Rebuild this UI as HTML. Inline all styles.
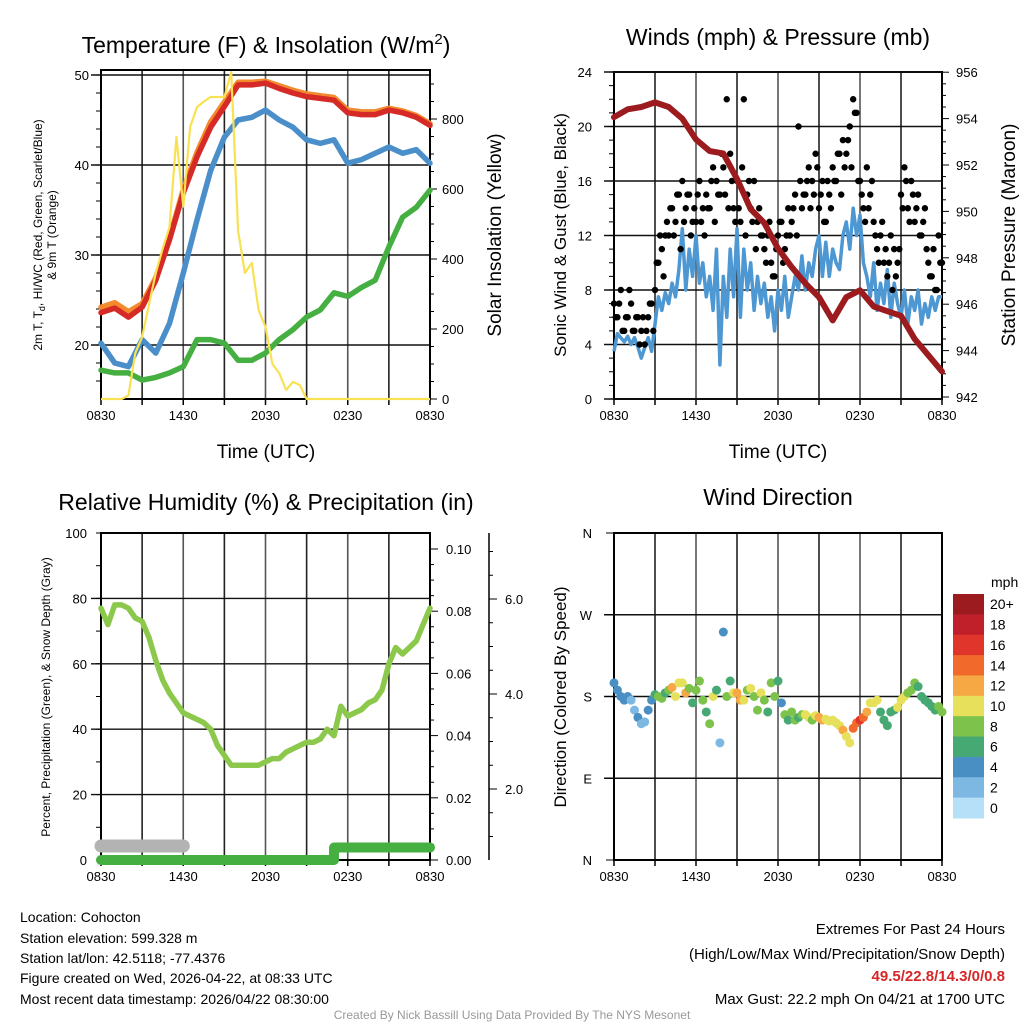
<!DOCTYPE html>
<html><head><meta charset="utf-8">
<style>
body{margin:0;background:#fff;}
svg{display:block;font-family:"Liberation Sans",Arial,sans-serif;}
</style></head>
<body>
<svg id="c" width="1024" height="1024" viewBox="0 0 1024 1024" xmlns="http://www.w3.org/2000/svg">
<rect width="1024" height="1024" fill="#fff"/>
<text x="266" y="53" font-size="23" text-anchor="middle">Temperature (F) &amp; Insolation (W/m<tspan dy="-9" font-size="15">2</tspan><tspan dy="9">)</tspan></text>
<text x="778" y="45" font-size="23" text-anchor="middle">Winds (mph) &amp; Pressure (mb)</text>
<text x="266" y="510" font-size="23" text-anchor="middle">Relative Humidity (%) &amp; Precipitation (in)</text>
<text x="778" y="505" font-size="23" text-anchor="middle">Wind Direction</text>

<text x="266" y="458" font-size="19" text-anchor="middle">Time (UTC)</text>
<text x="778" y="458" font-size="19" text-anchor="middle">Time (UTC)</text>

<text transform="translate(42,235) rotate(-90)" font-size="12" text-anchor="middle">2m T, T<tspan dy="3" font-size="9">d</tspan><tspan dy="-3">, HI/WC (Red, Green, Scarlet/Blue)</tspan></text>
<text transform="translate(56,235) rotate(-90)" font-size="12" text-anchor="middle">&amp; 9m T (Orange)</text>
<text transform="translate(501,235) rotate(-90)" font-size="19" text-anchor="middle">Solar Insolation (Yellow)</text>
<text transform="translate(566,235) rotate(-90)" font-size="17" text-anchor="middle">Sonic Wind &amp; Gust (Blue, Black)</text>
<text transform="translate(1015,235) rotate(-90)" font-size="19" text-anchor="middle">Station Pressure (Maroon)</text>
<text transform="translate(50,697) rotate(-90)" font-size="12" text-anchor="middle">Percent, Precipitation (Green), &amp; Snow Depth (Gray)</text>
<text transform="translate(566,697) rotate(-90)" font-size="17" text-anchor="middle">Direction (Colored By Speed)</text>

<g font-size="14">
<text x="20" y="922">Location: Cohocton</text>
<text x="20" y="943">Station elevation: 599.328 m</text>
<text x="20" y="963">Station lat/lon: 42.5118; -77.4376</text>
<text x="20" y="983">Figure created on Wed, 2026-04-22, at 08:33 UTC</text>
<text x="20" y="1004">Most recent data timestamp: 2026/04/22 08:30:00</text>
</g>
<g font-size="15" text-anchor="end">
<text x="1005" y="934">Extremes For Past 24 Hours</text>
<text x="1005" y="959">(High/Low/Max Wind/Precipitation/Snow Depth)</text>
<text x="1005" y="981" fill="#d62728" font-weight="bold">49.5/22.8/14.3/0/0.8</text>
<text x="1005" y="1004">Max Gust: 22.2 mph On 04/21 at 1700 UTC</text>
</g>
<text x="512" y="1019" font-size="12" fill="#999" text-anchor="middle">Created By Nick Bassill Using Data Provided By The NYS Mesonet</text>
<g id="plots"></g>
</svg>
<script>
// ---- data ----
const hoursTickLabels = ["0830","1430","2030","0230","0830"];
const tempRed = [23.6,24.1,23.1,24.2,27.2,31.7,36.9,40.9,44.2,46.5,48.9,48.9,49.1,48.5,48.0,47.6,47.4,47.2,45.8,45.6,45.6,46.1,45.8,45.3,44.4];
const tempOrange = [24.2,24.7,23.7,24.6,27.5,31.9,37.3,41.4,44.8,47.0,49.2,49.2,49.3,48.8,48.3,47.9,47.7,47.5,46.1,45.9,45.9,46.3,46.0,45.5,44.6];
const tempBlue = [20.2,18.0,17.6,20.6,19.1,22.4,28.0,33.9,39.4,43.1,45.0,45.3,46.1,45.0,44.2,42.8,42.4,42.8,40.2,40.6,41.3,42.0,41.3,41.7,40.2];
const tempGreen = [17.2,16.9,16.9,16.1,16.4,16.9,17.6,20.6,20.6,20.2,18.3,18.3,19.1,20.6,21.7,23.1,23.9,25.8,25.4,26.4,27.2,30.9,34.2,35.3,37.2];
const solar = [0,0,0,0,10,131,177,270,360,430,491,749,550,777,834,850,863,863,863,934,480,360,389,254,206,100,74,26,49,40,0,0,0,0,0,0,0,0,0,0,0,0,0,0,0,0,0,0,0];
const tempTicks = [50,40,30,20];
const solarTicks = [0,200,400,600,800];

const windSpeed = [3.5,4.8,4.5,4.2, 4.6,4.0,4.5,3.8, 3.0,3.8,4.5,3.5, 5.5,7.5,6.5,7.8, 7.0,8.5,7.5,9.5, 12.5,8,11,9, 12,8.5,10,7.5, 9,6.5,11,2.5, 9,6,11,7.5, 12.5,6,11,8, 10,6.5,9,7, 8.5,6,7.5,5, 8,6.5,9,6, 7.5,9,8,10.5, 8,10,9,11, 12,9,11.5,9, 11,10,9.5,12, 13,11,14,12, 13.5,10,9,7.5, 10,6.5,8.5,7, 9.5,6,8.5,7, 6,8,5.5,7.5, 6.5,8,5.5,7, 6,7.5,6.5,7.5, 7.5];
const gust = [7,6,8,5, 6,7,5,6, 5,4,6,7, 8,10,11,12, 12,14,13,15, 16,14,15,13, 13,16,14,15, 14,17,16,15, 17,22,18,14, 16,13,22,15, 14,16,13,12, 11,12,10,9, 12,13,11,14, 13,15,20,14, 15,17,16,18, 14,16,13,15, 17,16,18,19, 18,20,22,21, 16,14,17,15, 13,11,12,10, 9,12,11,10, 15,17,14,16, 13,15,12,14, 10,9,8,12, 10];
const gust2 = [6,7,5,6, 8,5,6,4, 6,5,7,5, 10,12,9,13, 14,12,15,11, 13,15,12,14, 15,13,12,14, 16,13,15,18, 15,14,16,13, 14,17,12,16, 13,11,14,12, 10,13,9,11, 13,10,12,12, 14,12,16,15, 16,14,15,17, 15,13,16,14, 16,18,15,17, 19,17,21,16, 15,13,14,16, 12,10,13,11, 10,8,9,11, 14,16,13,15, 14,12,13,11, 9,11,8,10];
const pressure = [954.06,954.4,954.5,954.7,954.5,954.0,953.1,952.6,952.5,951.4,950.1,949.5,948.4,947.6,946.9,946.3,945.3,946.3,946.6,945.9,945.7,945.5,944.5,943.8,943.1];
const windTicks = [0,4,8,12,16,20,24];
const pressTicks = [942,944,946,948,950,952,954,956];

const rh = [77,72,78,78,77,74,73,68,61,55,51,48,45,44,43,42,40,35,32,29,29,29,29,29,30,31,31,33,34,35,36,36,37,40,38,47,44,45,46,48,49,52,60,65,63,65,67,72,77];
const precip = [0,0,0,0,0,0,0,0,0,0,0,0,0,0,0,0,0,0.004,0.004,0.004,0.004,0.004,0.004,0.004,0.004];
const snowDepth = [0.8,0.8,0.8,0.8,0.8,0.8,0.8];
const rhTicks = [0,20,40,60,80,100];
const precipTicks = ["0.00","0.02","0.04","0.06","0.08","0.10"];
const snowTicks = ["2.0","4.0","6.0"];

const windDir = [195,187,180,176, 180,176,165,157, 150,152,165,176, 182,180,178,184, 187,190,180,195, 195,184,189,173, 187,197,176,163, 150,180,187,129, 251,180,197,184, 184,176,176,187, 189,180,165,184, 176,163,195,180, 197,173,160,154, 163,154,157,160, 160,157,154,159, 157,154,155,153, 154,151,148,143, 136,129,145,151, 154,157,163,173, 173,176,163,154, 148,163,165,168, 176,180,184,187, 195,191,180,176, 173,169,165,169, 163];
const windDirSpeed = [4,4,4,4, 4,2,2,4, 2,2,4,4, 6,7,7,6, 8,11,10,9, 10,12,8,6, 8,8,7,6, 8,9,6,2, 4,8,6,9, 12,12,10,8, 10,7,8,10, 7,6,8,7, 6,4,7,6, 8,8,6,8, 10,10,8,10, 12,12,10,10, 10,10,10,12, 10,10,14,14, 16,14,12,10, 10,10,6,6, 6,6,6,10, 10,10,8,8, 8,6,6,6, 6,6,6,8, 8];
const dirTicks = ["N","E","S","W","N"];
const cbLabels = ["20+","18","16","14","12","10","8","6","4","2","0"];
const cbColors = ["#9b1b1e","#c0202a","#e0352b","#f26a2b","#f6a845","#e6e05a","#7cc24b","#46a872","#4a8fc4","#7db8e3","#b6e0f7"];

// ---- helpers ----
const NS="http://www.w3.org/2000/svg";
const root=document.getElementById('plots');
function mk(tag,attrs,parent){const e=document.createElementNS(NS,tag);for(const k in attrs)e.setAttribute(k,attrs[k]);(parent||root).appendChild(e);return e;}
function txt(x,y,s,size,anchor,parent){const t=mk('text',{x:x,y:y,'font-size':size,'text-anchor':anchor||'middle'},parent);t.textContent=s;return t;}
function pathFrom(xs,ys){let d='';let pen=false;for(let i=0;i<xs.length;i++){if(ys[i]==null){pen=false;continue;}d+=(pen?'L':'M')+xs[i].toFixed(1)+' '+ys[i].toFixed(1);pen=true;}return d;}

function frame(x0,x1,y0,y1,name){
  const g=mk('g',{});
  
  
  for(let k=0;k<=8;k++){const x=x0+(x1-x0)*k/8;mk('line',{x1:x,x2:x,y1:y0,y2:y1,stroke:k%2?'#222':'#555','stroke-width':1.6},g);}
  mk('rect',{x:x0,y:y0,width:x1-x0,height:y1-y0,fill:'none',stroke:'#000','stroke-width':2},g);
  for(let k=0;k<=8;k++){const x=x0+(x1-x0)*k/8;mk('line',{x1:x,x2:x,y1:y1,y2:y1+6,stroke:'#000','stroke-width':1.5},g);}
  hoursTickLabels.forEach((s,i)=>{const t=txt(x0+(x1-x0)*i/4,y1+21,s,13,'middle',g);
    
    });
  return g;
}
function hgrid(g,x0,x1,y){mk('line',{x1:x0-10,x2:x1,y1:y,y2:y,stroke:'#111','stroke-width':1.4},g);}

// ===== Panel 1 =====
(function(){
  const X0=101,X1=430,Y0=70,Y1=399;
  const xH=h=>X0+h*(X1-X0)/24;
  const yT=t=>75+(50-t)*9;
  const yS=w=>399-w*0.35;
  const g=frame(X0,X1,Y0,Y1,'temperature-panel');
  tempTicks.forEach(t=>{hgrid(g,X0,X1,yT(t));const l=txt(X0-12,yT(t)+5,String(t),13,'end',g);
    
    });
  for(let t=16;t<=50;t+=2){mk('line',{x1:X0-5,x2:X0,y1:yT(t),y2:yT(t),stroke:'#000'},g);}
  mk('line',{x1:X1,x2:X1,y1:Y0,y2:Y1,stroke:'#000','stroke-width':2},g);
  for(let w=0;w<=900;w+=50){mk('line',{x1:X1,x2:X1+(w%200==0?7:4),y1:yS(w),y2:yS(w),stroke:'#000'},g);}
  solarTicks.forEach(w=>{const l=txt(X1+12,yS(w)+5,String(w),13,'start',g);
    
    });
  const hx=tempRed.map((_,i)=>xH(i));
  const series=[[tempGreen,'#45b041','temp-dewpoint-line'],[tempBlue,'#4a8fc9','temp-hiwc-line'],[tempOrange,'#f48a2e','temp-9m-line'],[tempRed,'#d62a26','temp-2m-line']];
  series.forEach(s=>{const p=mk('path',{d:pathFrom(hx,s[0].map(yT)),fill:'none',stroke:s[1],'stroke-width':5.5,'stroke-linejoin':'round','stroke-linecap':'round'});
    
    });
  const sx=solar.map((_,i)=>xH(i/2));
  const sp=mk('path',{d:pathFrom(sx,solar.map(yS)),fill:'none',stroke:'#f9e154','stroke-width':2.2,'stroke-linejoin':'round'});
  
  
})();

// ===== Panel 2 =====
(function(){
  const X0=614,X1=942,Y0=72,Y1=399;
  const xH=h=>X0+h*(X1-X0)/24;
  const yW=w=>399-w*13.625;
  const yP=p=>397-(p-942)*23.2;
  const g=frame(X0,X1,Y0,Y1,'winds-panel');
  windTicks.forEach(w=>{hgrid(g,X0,X1,yW(w));const l=txt(X0-22,yW(w)+5,String(w),13,'end',g);
    
    });
  for(let w=0;w<=24;w+=1){mk('line',{x1:X0-5,x2:X0,y1:yW(w),y2:yW(w),stroke:'#000'},g);}
  for(let p=942;p<=956;p+=0.5){mk('line',{x1:X1,x2:X1+(p%2==0?7:4),y1:yP(p),y2:yP(p),stroke:'#000'},g);}
  pressTicks.forEach(p=>{const l=txt(X1+14,yP(p)+5,String(p),13,'start',g);
    
    });
  const wp=mk('path',{d:pathFrom(windSpeed.map((_,i)=>xH(i/4)),windSpeed.map(yW)),fill:'none',stroke:'#4d97d3','stroke-width':3.5,'stroke-linejoin':'round'});
  
  
  const gg=mk('g',{});
  
  
  gust.forEach((v,i)=>{const c=mk('circle',{cx:xH(i/4),cy:yW(v),r:3.2,fill:'#000'},gg);
    
    });
  gust2.forEach((v,i)=>{const c=mk('circle',{cx:xH(i/4+0.125),cy:yW(v),r:3.2,fill:'#000'},gg);
    
    });
  const pp=mk('path',{d:pathFrom(pressure.map((_,i)=>xH(i)),pressure.map(yP)),fill:'none',stroke:'#9b1b1e','stroke-width':6,'stroke-linejoin':'round','stroke-linecap':'round'});
  
  
})();

// ===== Panel 3 =====
(function(){
  const X0=101,X1=430,Y0=533,Y1=860;
  const xH=h=>X0+h*(X1-X0)/24;
  const yR=r=>860-r*3.27;
  const yPr=p=>860-p*3110;
  const ySn=s=>884-s*47.5;
  const g=frame(X0,X1,Y0,Y1,'humidity-panel');
  rhTicks.forEach(r=>{if(r>0&&r<100)hgrid(g,X0,X1,yR(r));const l=txt(X0-14,yR(r)+5,String(r),13,'end',g);
    
    });
  for(let r=0;r<=100;r+=10){mk('line',{x1:X0-5,x2:X0,y1:yR(r),y2:yR(r),stroke:'#000'},g);}
  for(let p=0;p<=0.105;p+=0.005){mk('line',{x1:X1,x2:X1+(Math.round(p*1000)%20==0?8:4),y1:yPr(p),y2:yPr(p),stroke:'#000'},g);}
  precipTicks.forEach(s=>{const l=txt(X1+16,yPr(parseFloat(s))+5,s,13,'start',g);
    
    });
  mk('line',{x1:489,x2:489,y1:533,y2:860,stroke:'#000','stroke-width':1.5},g);
  for(let s=1;s<=7;s+=0.5){if(ySn(s)<533)continue;mk('line',{x1:489,x2:489+(s%2==0?8:4),y1:ySn(s),y2:ySn(s),stroke:'#000'},g);}
  snowTicks.forEach(s=>{const l=txt(505,ySn(parseFloat(s))+5,s,13,'start',g);
    
    });
  const sn=mk('path',{d:pathFrom(snowDepth.map((_,i)=>xH(i)),snowDepth.map(ySn)),fill:'none',stroke:'#b3b3b3','stroke-width':13,'stroke-linecap':'round'});
  
  
  let d='';for(let i=0;i<precip.length;i++){const x=xH(i),y=yPr(precip[i]);if(i==0)d+='M'+x+' '+y;else{d+='L'+x+' '+yPr(precip[i-1])+'L'+x+' '+y;}}
  const pr=mk('path',{d:d,fill:'none',stroke:'#45b041','stroke-width':10,'stroke-linecap':'round','stroke-linejoin':'round'});
  
  
  const rp=mk('path',{d:pathFrom(rh.map((_,i)=>xH(i/2)),rh.map(yR)),fill:'none',stroke:'#8cc84b','stroke-width':5.5,'stroke-linejoin':'round','stroke-linecap':'round'});
  
  
})();

// ===== Panel 4 =====
(function(){
  const X0=614,X1=942,Y0=533,Y1=860;
  const xH=h=>X0+h*(X1-X0)/24;
  const yD=d=>860-d*(Y1-Y0)/360;
  const g=frame(X0,X1,Y0,Y1,'wind-direction-panel');
  dirTicks.forEach((s,i)=>{if(i>0&&i<4)hgrid(g,X0,X1,yD(i*90));mk('line',{x1:X0-8,x2:X0,y1:yD(i*90),y2:yD(i*90),stroke:'#000'},g);
    const l=txt(X0-22,yD(i*90)+5,s,13,'end',g);
    
    });
  const pg=mk('g',{});
  
  
  windDir.forEach((v,i)=>{const idx=Math.min(10,Math.round(windDirSpeed[i]/2));
    const c=mk('circle',{cx:xH(i/4),cy:yD(v),r:4.5,fill:cbColors[10-idx]},pg);
    
    });
  const cb=mk('g',{});
  
  
  const h=(818-594)/11;
  cbColors.forEach((c,i)=>{mk('rect',{x:953,y:594+i*h,width:31,height:h+0.5,fill:c},cb);
    const l=txt(990,594+i*h+h/2+5,cbLabels[i],14,'start',cb);
    
    });
  const u=txt(991,587,'mph',14,'start',cb);
  
  
})();
</script>
</body></html>
